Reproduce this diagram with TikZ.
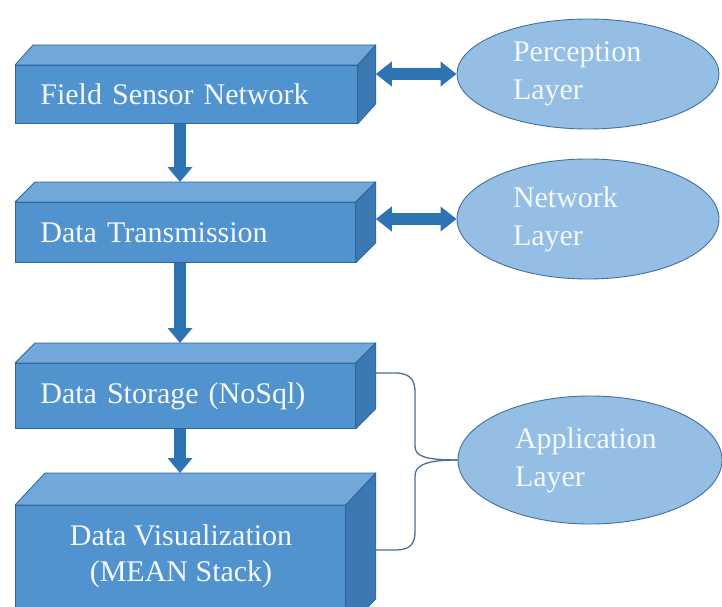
\documentclass[tikz,border=0pt]{standalone}
\usepackage{fontspec}
\setmainfont{Liberation Serif}
\newfontfamily\serifx{Liberation Serif}
\usetikzlibrary{calc,arrows.meta,shapes.geometric}
\definecolor{frontc}{HTML}{5093CF}
\definecolor{topc}{HTML}{72A7DA}
\definecolor{sidec}{HTML}{3C78B2}
\definecolor{edgec}{HTML}{2F6699}
\definecolor{arrowc}{HTML}{2E74B5}
\definecolor{ellc}{HTML}{95BEE4}
\definecolor{elledge}{HTML}{41719C}
\definecolor{txtc}{HTML}{F5F8FC}
\definecolor{bracec}{HTML}{4A6F92}
\newcommand\boxfaces[3]{%
  \filldraw[fill=topc,draw=edgec,line width=0.8pt,line join=round] (#1.north west) -- ++(#2,-#3) -- ($(#1.north east)+(#2,-#3)$) -- (#1.north east) -- cycle;
  \filldraw[fill=sidec,draw=edgec,line width=0.8pt,line join=round] (#1.north east) -- ++(#2,-#3) -- ($(#1.south east)+(#2,-#3)$) -- (#1.south east) -- cycle;}
\begin{document}
\begin{tikzpicture}[x=1pt,y=-1pt,
  frontbox/.style={draw=edgec, line width=0.8pt, fill=frontc, text=txtc,
    font=\serifx\fontsize{30}{37}\selectfont, inner xsep=25pt, inner ysep=0pt,
    anchor=north west, align=left},
  layer/.style={ellipse, draw=elledge, line width=0.9pt, fill=ellc, text=txtc,
    font=\serifx\fontsize{30}{38}\selectfont, align=left, text width=150pt,
    inner sep=0pt, minimum width=262pt},
  downarrow/.style={draw=arrowc, line width=12pt,
    -{Triangle[width=24pt,length=15pt]}},
  dblarrow/.style={draw=arrowc, line width=12pt,
    {Triangle[width=24pt,length=16pt]}-{Triangle[width=24pt,length=16pt]}},
  bracestyle/.style={draw=bracec, line width=1.3pt}]
\useasboundingbox (0,0) rectangle (722,607);
\clip (0,0) rectangle (722,607);
\fill[white] (0,0) rectangle (722,607);

% boxes
\node[frontbox, text width=292pt, minimum height=58pt] (fsn) at (15,65) {Field Sensor Network};
\boxfaces{fsn}{18}{20}
\node[frontbox, text width=290pt, minimum height=60pt] (dt) at (15,202) {Data Transmission};
\boxfaces{dt}{20}{20}
\node[frontbox, text width=290pt, minimum height=65pt] (ds) at (15,363) {Data Storage (NoSql)};
\boxfaces{ds}{20}{20}
\node[frontbox, text width=280pt, minimum height=125pt] (dv) at (15,505) {};
\boxfaces{dv}{30}{32}
\node[text=txtc, font=\serifx\fontsize{30}{36}\selectfont, align=center, inner sep=0pt] (dvtext) at (181,556) {Data Visualization\\(MEAN Stack)};

% layer ellipses
\node[layer, minimum height=110pt] (perc) at (588,74) {Perception\\Layer};
\node[layer, minimum height=120pt] (net) at (588,219) {Network\\Layer};
\node[layer, minimum width=264pt, minimum height=128pt] (app) at (590,460) {Application\\Layer};

% down arrows
\coordinate (ax) at (180,0);
\draw[downarrow] (fsn.south -| ax) -- ($(dt.north -| ax)+(0,-20)$);
\draw[downarrow] (dt.south -| ax) -- ($(ds.north -| ax)+(0,-20)$);
\draw[downarrow] (ds.south -| ax) -- ($(dv.north -| ax)+(0,-32)$);

% double arrows
\coordinate (fsnr) at ($(fsn.north east)+(18,0)$);
\coordinate (dtr) at ($(dt.north east)+(20,0)$);
\draw[dblarrow] (perc.west -| fsnr) -- (perc.west);
\draw[dblarrow] (net.west -| dtr) -- (net.west);

% brace
\coordinate (bt) at (375,373);
\coordinate (bb) at (375,550);
\draw[bracestyle] (bt) -- (395,373) .. controls (410,373) and (415,380) .. (415,392)
  -- (415,446) .. controls (415,456) and (424,460) .. (app.west);
\draw[bracestyle] (app.west) .. controls (424,460) and (415,466) .. (415,476)
  -- (415,532) .. controls (415,544) and (410,550) .. (395,550) -- (bb);
\end{tikzpicture}
\end{document}
